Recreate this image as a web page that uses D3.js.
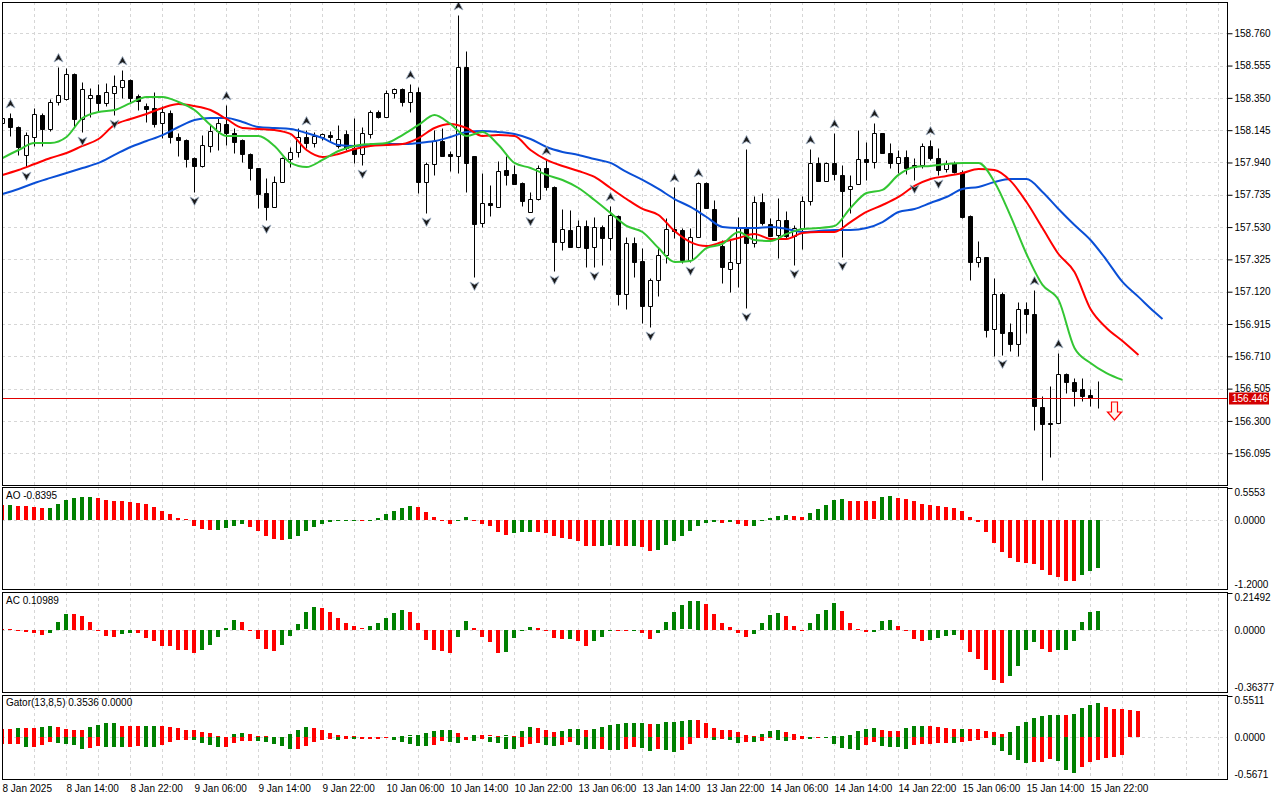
<!DOCTYPE html>
<html>
<head>
<meta charset="utf-8">
<script src="https://cdn.jsdelivr.net/npm/d3@7"></script>
<style>
body { margin: 0; background: #fff; }
text { font-family: "Liberation Sans", Arial, sans-serif; font-size: 10px; fill: #000; }
</style>
</head>
<body>
<script>
'use strict';

// hourly bars, 8 Jan 06:00 .. 15 Jan 23:00
var timeLabels = ['8 Jan 2025','8 Jan 14:00','8 Jan 22:00','9 Jan 06:00','9 Jan 14:00','9 Jan 22:00',
    '10 Jan 06:00','10 Jan 14:00','10 Jan 22:00','13 Jan 06:00','13 Jan 14:00','13 Jan 22:00',
    '14 Jan 06:00','14 Jan 14:00','14 Jan 22:00','15 Jan 06:00','15 Jan 14:00','15 Jan 22:00'];
var priceTicks = [156.095,156.300,156.505,156.710,156.915,157.120,157.325,157.530,157.735,157.940,158.145,158.350,158.555,158.760];
var priceRange = [155.887, 158.971];
var lastPrice = 156.446;
var sellSignal = {bar: 139, price: 156.42};

var opens = [158.191,158.222,158.165,157.988,158.102,158.241,158.153,158.324,158.343,158.501,
    158.216,158.349,158.368,158.317,158.381,158.419,158.463,158.362,158.298,158.286,
    158.191,158.254,158.102,158.083,157.968,157.918,158.045,158.140,158.184,158.127,
    158.083,157.994,157.905,157.746,157.658,157.816,157.962,158.007,158.102,158.064,
    158.102,158.114,158.045,158.121,158.032,157.994,158.121,158.260,158.229,158.381,
    158.406,158.324,158.387,157.816,157.930,158.076,157.994,157.981,158.546,157.981,
    157.556,157.683,157.658,157.892,157.867,157.810,157.626,157.708,157.905,157.785,
    157.435,157.512,157.404,157.537,157.404,157.531,157.461,157.601,157.106,157.429,
    157.315,157.029,157.194,157.353,157.518,157.512,157.321,157.467,157.810,157.645,
    157.410,157.264,157.302,157.531,157.429,157.689,157.550,157.480,157.575,157.474,
    157.524,157.696,157.937,157.823,157.937,157.861,157.772,157.804,157.962,157.943,
    158.127,158.000,157.937,157.975,157.924,157.924,158.045,157.968,157.899,157.937,
    157.880,157.601,157.309,157.340,156.884,157.106,156.864,156.788,157.010,156.979,
    156.389,156.287,156.287,156.598,156.547,156.503,156.465,156.446];
var highs = [158.248,158.254,158.172,158.133,158.286,158.254,158.343,158.546,158.540,158.508,
    158.451,158.413,158.438,158.444,158.495,158.527,158.470,158.375,158.317,158.387,
    158.298,158.273,158.127,158.089,157.975,158.114,158.178,158.222,158.305,158.159,
    158.089,157.997,157.908,157.842,157.854,157.975,158.038,158.159,158.146,158.133,
    158.127,158.140,158.178,158.146,158.222,158.165,158.273,158.273,158.400,158.413,
    158.413,158.438,158.419,157.943,158.146,158.159,158.013,158.876,158.647,157.984,
    157.873,157.797,157.949,157.981,157.924,157.813,157.753,157.924,157.956,157.788,
    157.645,157.639,157.575,157.575,157.594,157.543,157.664,157.607,157.467,157.467,
    157.397,157.207,157.404,157.588,157.785,157.524,157.524,157.816,157.816,157.702,
    157.448,157.448,157.594,158.026,157.727,157.746,157.588,157.715,157.632,157.543,
    157.727,158.026,157.975,157.943,158.127,157.924,157.861,158.146,158.070,158.191,
    158.130,158.064,158.019,158.019,157.968,158.064,158.083,158.032,157.956,157.949,
    157.892,157.604,157.442,157.343,157.207,157.118,156.922,157.055,157.055,157.131,
    156.458,156.522,156.731,156.604,156.573,156.573,156.503,156.554];
var lows = [158.172,158.108,157.988,157.911,158.045,158.045,158.140,158.305,158.337,158.165,
    158.133,158.229,158.260,158.298,158.241,158.349,158.324,158.273,158.197,158.165,
    158.095,158.064,157.981,157.911,157.753,157.911,158.007,158.019,158.051,158.000,
    157.943,157.829,157.651,157.575,157.655,157.813,157.911,157.975,158.032,158.038,
    158.083,158.070,158.032,158.019,157.937,157.924,158.095,158.222,158.226,158.349,
    158.298,158.260,157.746,157.620,157.861,157.978,157.886,157.873,157.753,157.213,
    157.531,157.601,157.655,157.797,157.801,157.664,157.623,157.705,157.766,157.252,
    157.385,157.401,157.401,157.277,157.277,157.290,157.385,157.036,157.010,157.213,
    156.922,156.896,157.093,157.302,157.461,157.302,157.309,157.464,157.648,157.445,
    157.175,157.118,157.150,157.017,157.404,157.543,157.471,157.334,157.461,157.290,
    157.391,157.670,157.820,157.820,157.829,157.340,157.620,157.801,157.829,157.905,
    157.997,157.905,157.873,157.867,157.829,157.905,157.956,157.861,157.880,157.873,
    157.588,157.194,157.277,156.833,156.712,156.718,156.744,156.712,156.858,156.243,
    155.925,156.071,156.284,156.477,156.395,156.427,156.395,156.382];
var closes = [158.222,158.165,158.038,158.114,158.248,158.153,158.324,158.368,158.501,158.216,
    158.406,158.368,158.317,158.387,158.425,158.463,158.349,158.330,158.279,158.184,
    158.260,158.102,158.083,157.962,157.918,158.051,158.140,158.191,158.127,158.070,
    157.994,157.905,157.740,157.658,157.816,157.968,158.007,158.102,158.064,158.108,
    158.121,158.102,158.089,158.032,157.994,158.127,158.260,158.229,158.381,158.406,
    158.324,158.387,157.816,157.930,158.076,157.981,157.981,158.546,157.937,157.550,
    157.683,157.670,157.886,157.861,157.804,157.696,157.708,157.905,157.785,157.435,
    157.518,157.404,157.537,157.397,157.531,157.461,157.607,157.106,157.429,157.309,
    157.029,157.194,157.353,157.518,157.505,157.321,157.467,157.810,157.651,157.448,
    157.277,157.309,157.531,157.429,157.689,157.556,157.474,157.575,157.474,157.524,
    157.696,157.937,157.823,157.937,157.867,157.759,157.791,157.962,157.943,158.127,
    158.000,157.937,157.975,157.905,157.911,158.045,157.968,157.892,157.930,157.880,
    157.594,157.309,157.340,156.877,157.106,156.858,156.788,157.010,156.979,156.395,
    156.281,156.281,156.598,156.547,156.490,156.458,156.446,156.444];

var fractalUp = [1,7,15,28,38,51,57,68,76,84,87,93,101,104,109,116,129,132];
var fractalDown = [3,10,14,24,33,45,53,59,66,69,74,81,86,93,99,105,114,117,125,130];

// Alligator(13,8,5), one value every 2 bars; jaw's last point sits on bar 145
var jaw = [157.740,157.772,157.810,157.842,157.873,157.905,157.937,157.988,158.038,158.076,
    158.114,158.165,158.210,158.222,158.222,158.197,158.165,158.159,158.153,158.127,
    158.095,158.051,158.045,158.051,158.057,158.057,158.064,158.076,158.102,158.133,
    158.140,158.133,158.121,158.089,158.038,158.007,157.988,157.962,157.937,157.880,
    157.829,157.772,157.708,157.658,157.594,157.531,157.524,157.524,157.531,157.518,
    157.499,157.505,157.512,157.512,157.524,157.562,157.626,157.645,157.683,157.721,
    157.772,157.785,157.816,157.835,157.835,157.753,157.645,157.543,157.448,157.321,
    157.182,157.087,156.991,156.947];
var jawEnd = 145;
var teeth = [157.861,157.892,157.930,157.968,158.000,158.045,158.089,158.178,158.216,158.248,
    158.286,158.311,158.298,158.273,158.216,158.159,158.153,158.146,158.121,158.019,
    157.975,157.994,158.026,158.045,158.051,158.057,158.095,158.159,158.184,158.159,
    158.108,158.114,158.108,158.019,157.956,157.918,157.886,157.848,157.778,157.708,
    157.645,157.607,157.505,157.435,157.410,157.435,157.461,157.486,157.455,157.455,
    157.493,157.499,157.499,157.562,157.626,157.670,157.721,157.791,157.835,157.854,
    157.873,157.899,157.892,157.823,157.689,157.524,157.359,157.245,157.010,156.890,
    156.807,156.718];
var lips = [157.968,158.019,158.064,158.064,158.102,158.222,158.260,158.273,158.317,158.356,
    158.356,158.324,158.273,158.178,158.108,158.108,158.108,158.045,157.937,157.911,
    157.956,158.013,158.045,158.057,158.064,158.114,158.178,158.241,158.184,158.108,
    158.133,158.051,157.937,157.905,157.861,157.829,157.778,157.702,157.620,157.537,
    157.499,157.397,157.309,157.315,157.397,157.423,157.499,157.448,157.442,157.486,
    157.518,157.524,157.537,157.651,157.746,157.766,157.861,157.911,157.918,157.930,
    157.937,157.937,157.816,157.601,157.359,157.163,157.068,156.763,156.668,156.604,
    156.560];

var ao = [0.261,0.264,0.243,0.242,0.231,0.214,0.215,0.278,0.348,0.388,
    0.405,0.407,0.388,0.348,0.335,0.330,0.313,0.291,0.278,0.231,
    0.162,0.105,0.029,0.012,-0.099,-0.157,-0.174,-0.171,-0.134,-0.099,
    -0.075,-0.117,-0.191,-0.273,-0.331,-0.348,-0.331,-0.273,-0.186,-0.117,
    -0.069,-0.029,-0.012,-0.007,-0.004,-0.006,0.002,0.040,0.099,0.157,
    0.209,0.238,0.220,0.134,0.047,0.007,-0.063,-0.011,0.047,-0.005,
    -0.063,-0.109,-0.209,-0.266,-0.226,-0.209,-0.206,-0.210,-0.226,-0.283,
    -0.312,-0.330,-0.371,-0.457,-0.459,-0.455,-0.440,-0.446,-0.457,-0.454,
    -0.475,-0.544,-0.527,-0.440,-0.371,-0.283,-0.197,-0.109,-0.052,-0.035,
    -0.052,-0.036,-0.069,-0.109,-0.107,-0.025,0.029,0.065,0.082,0.065,
    0.047,0.117,0.186,0.256,0.343,0.360,0.331,0.325,0.323,0.321,
    0.394,0.412,0.389,0.365,0.325,0.278,0.256,0.238,0.220,0.209,
    0.157,0.047,-0.040,-0.209,-0.400,-0.556,-0.660,-0.729,-0.747,-0.765,
    -0.863,-0.961,-0.991,-1.060,-1.062,-0.961,-0.892,-0.8395];
var ac = [0.004,0.002,-0.004,-0.010,-0.015,-0.029,-0.015,0.045,0.095,0.094,
    0.080,0.045,-0.004,-0.035,-0.038,-0.025,-0.015,-0.017,-0.044,-0.063,
    -0.092,-0.095,-0.115,-0.119,-0.137,-0.119,-0.086,-0.038,0.012,0.057,
    0.045,-0.004,-0.052,-0.109,-0.120,-0.086,-0.035,0.035,0.102,0.132,
    0.127,0.105,0.070,0.038,0.023,0.008,0.023,0.040,0.070,0.099,
    0.115,0.103,0.042,-0.057,-0.115,-0.124,-0.135,-0.038,0.052,0.012,
    -0.040,-0.072,-0.135,-0.130,-0.044,-0.002,0.015,0.013,-0.004,-0.044,
    -0.055,-0.050,-0.067,-0.095,-0.067,-0.038,-0.002,-0.004,-0.005,-0.004,
    -0.015,-0.055,-0.019,0.045,0.103,0.143,0.166,0.167,0.151,0.094,
    0.042,0.017,-0.015,-0.038,-0.021,0.042,0.086,0.097,0.080,0.023,
    -0.001,0.040,0.092,0.115,0.155,0.109,0.040,0.004,-0.010,-0.009,
    0.052,0.057,0.023,-0.004,-0.050,-0.067,-0.061,-0.044,-0.033,-0.027,
    -0.061,-0.130,-0.170,-0.233,-0.290,-0.308,-0.268,-0.210,-0.119,-0.073,
    -0.113,-0.130,-0.119,-0.118,-0.067,0.046,0.104,0.10989];
var gatorUp = [0.113,0.113,0.122,0.122,0.122,0.131,0.144,0.131,0.108,0.099,
    0.097,0.131,0.158,0.189,0.190,0.153,0.144,0.143,0.145,0.146,
    0.144,0.135,0.122,0.099,0.090,0.072,0.054,0.013,0.004,0.036,
    0.054,0.036,0.013,0.012,0.004,0.002,0.036,0.090,0.131,0.118,
    0.099,0.054,0.022,0.013,0.008,0.005,0.004,0.003,0.002,0.001,
    0.010,0.019,0.028,0.049,0.076,0.090,0.092,0.049,0.003,0.023,
    0.021,0.019,0.018,0.020,0.014,0.076,0.131,0.122,0.090,0.072,
    0.085,0.104,0.106,0.090,0.108,0.135,0.162,0.171,0.184,0.186,
    0.188,0.171,0.172,0.198,0.200,0.211,0.225,0.224,0.184,0.117,
    0.090,0.088,0.063,0.023,0.016,0.040,0.081,0.090,0.063,0.036,
    0.010,0.005,0.003,0.004,0.006,0.008,0.023,0.077,0.104,0.117,
    0.090,0.077,0.076,0.117,0.144,0.146,0.144,0.131,0.117,0.104,
    0.106,0.104,0.102,0.081,0.063,0.036,0.063,0.144,0.198,0.252,
    0.288,0.292,0.294,0.292,0.306,0.387,0.436,0.454,0.400,0.377,
    0.376,0.360,0.3536];
var gatorDown = [-0.094,-0.092,-0.090,-0.135,-0.133,-0.103,-0.067,-0.081,-0.094,-0.103,
    -0.162,-0.148,-0.126,-0.128,-0.131,-0.133,-0.130,-0.127,-0.129,-0.131,
    -0.112,-0.067,-0.045,-0.036,-0.045,-0.080,-0.112,-0.140,-0.130,-0.075,
    -0.055,-0.050,-0.055,-0.070,-0.100,-0.120,-0.162,-0.160,-0.126,-0.070,
    -0.040,-0.032,-0.036,-0.030,-0.033,-0.027,-0.024,-0.022,-0.020,-0.036,
    -0.071,-0.094,-0.121,-0.123,-0.108,-0.058,-0.071,-0.085,-0.040,-0.058,
    -0.027,-0.071,-0.085,-0.166,-0.168,-0.135,-0.094,-0.081,-0.108,-0.121,
    -0.108,-0.071,-0.108,-0.166,-0.168,-0.165,-0.179,-0.181,-0.166,-0.135,
    -0.148,-0.193,-0.166,-0.179,-0.206,-0.179,-0.094,-0.005,-0.003,-0.040,
    -0.031,-0.036,-0.085,-0.065,-0.071,-0.058,-0.018,-0.044,-0.058,-0.040,
    -0.027,-0.031,-0.004,-0.013,-0.094,-0.148,-0.162,-0.179,-0.108,-0.071,
    -0.125,-0.139,-0.141,-0.166,-0.108,-0.098,-0.094,-0.081,-0.080,-0.082,
    -0.071,-0.058,-0.044,-0.013,-0.108,-0.193,-0.247,-0.314,-0.345,-0.340,
    -0.336,-0.301,-0.328,-0.449,-0.489,-0.408,-0.341,-0.314,-0.283,-0.270,
    -0.247];
var aoRange = [-1.2, 0.5553];
var acRange = [-0.36377, 0.21492];
var gatorRange = [-0.5671, 0.5511];

var mt = {};
mt.left = 2;
mt.right = 1227;
mt.barStep = 8;
mt.panels = {
    main:  {top: 2,   bottom: 485},
    ao:    {top: 487, bottom: 589},
    ac:    {top: 592, bottom: 692},
    gator: {top: 695, bottom: 779}
};
mt.grid = '#d6d6d6';
mt.green = '#008000';
mt.red = '#ff0000';
// plain hyphen for negatives, as the terminal prints them
mt.locale = d3.formatLocale({decimal: '.', thousands: ',', grouping: [3], currency: ['', ''], minus: '-'});
mt.fmt = function (spec) { return mt.locale.format(spec); };

mt.x = d3.scaleLinear().domain([0, 1]).range([mt.left, mt.left + mt.barStep]);
mt.px = function (i) { return Math.round(mt.x(i)) + 0.5; };
mt.yPrice = d3.scaleLinear().domain(priceRange).range([486, 0]);

var svg = d3.select('body').append('svg').attr('width', 1280).attr('height', 800);
var defs = svg.append('defs');

mt.clip = function (name, p) {
    defs.append('clipPath').attr('id', 'clip-' + name).append('rect')
        .attr('x', mt.left + 0.5).attr('y', p.top + 0.5)
        .attr('width', mt.right - mt.left).attr('height', p.bottom - p.top);
    return 'url(#clip-' + name + ')';
};

mt.vGrid = function (g, p) {
    var ticks = d3.range(4, 154, 4).filter(function (i) { return mt.x(i) < mt.right; });
    g.selectAll('line.vg').data(ticks).enter().append('line')
        .attr('x1', mt.px).attr('x2', mt.px)
        .attr('y1', p.top).attr('y2', p.bottom)
        .attr('stroke', mt.grid).attr('stroke-dasharray', '3,3');
};

mt.hLine = function (g, y) {
    g.append('line').attr('x1', mt.left).attr('x2', mt.right)
        .attr('y1', Math.round(y) + 0.5).attr('y2', Math.round(y) + 0.5)
        .attr('stroke', mt.grid).attr('stroke-dasharray', '3,3');
};

mt.frame = function (p) {
    svg.append('rect').attr('x', mt.left + 0.5).attr('y', p.top + 0.5)
        .attr('width', mt.right - mt.left).attr('height', p.bottom - p.top)
        .attr('fill', 'none').attr('stroke', '#000');
};

// ---------- main panel ----------
var pm = mt.panels.main;
var main = svg.append('g').attr('clip-path', mt.clip('main', pm));
mt.vGrid(main, pm);
priceTicks.forEach(function (v) { mt.hLine(main, mt.yPrice(v)); });

var bars = d3.range(opens.length);
main.selectAll('line.wick').data(bars).enter().append('line')
    .attr('x1', mt.px).attr('x2', mt.px)
    .attr('y1', function (i) { return Math.round(mt.yPrice(highs[i])) + 0.5; })
    .attr('y2', function (i) { return Math.round(mt.yPrice(lows[i])) + 0.5; })
    .attr('stroke', '#000');
main.selectAll('path.body').data(bars).enter().append('path')
    .attr('d', function (i) {
        var top = Math.round(mt.yPrice(Math.max(opens[i], closes[i]))) + 0.5;
        var bot = Math.round(mt.yPrice(Math.min(opens[i], closes[i]))) + 0.5;
        var x0 = mt.px(i) - 2;
        return 'M' + x0 + ',' + top + 'h4V' + bot + 'h-4Z';
    })
    .attr('fill', function (i) { return closes[i] > opens[i] ? '#fff' : '#000'; })
    .attr('stroke', '#000');

mt.alligator = function (values, end, color) {
    var line = d3.line()
        .x(function (d, k) { return mt.x(Math.min(k * 2, end)) + 0.5; })
        .y(function (d) { return mt.yPrice(d); })
        .curve(d3.curveMonotoneX);
    main.append('path').attr('d', line(values))
        .attr('fill', 'none').attr('stroke', color).attr('stroke-width', 2);
};
mt.alligator(jaw, jawEnd, '#0a4fd6');
mt.alligator(teeth, 999, '#ff0000');
mt.alligator(lips, 999, '#33c633');

var upShape = 'M0,-4.5L4.5,4L0,1.5L-4.5,4Z';
var downShape = 'M0,4.5L4.5,-4L0,-1.5L-4.5,-4Z';
main.selectAll('path.fup').data(fractalUp).enter().append('path')
    .attr('d', upShape)
    .attr('transform', function (i) { return 'translate(' + mt.px(i) + ',' + (mt.yPrice(highs[i]) - 9) + ')'; })
    .attr('fill', '#1a1a1a').attr('stroke', '#9fb0c4').attr('stroke-width', 0.8);
main.selectAll('path.fdn').data(fractalDown).enter().append('path')
    .attr('d', downShape)
    .attr('transform', function (i) { return 'translate(' + mt.px(i) + ',' + (mt.yPrice(lows[i]) + 9) + ')'; })
    .attr('fill', '#1a1a1a').attr('stroke', '#9fb0c4').attr('stroke-width', 0.8);

var yLast = Math.round(mt.yPrice(lastPrice)) + 0.5;
main.append('line').attr('x1', mt.left).attr('x2', mt.right)
    .attr('y1', yLast).attr('y2', yLast).attr('stroke', '#e00000');

var sy = mt.yPrice(sellSignal.price);
main.append('path')
    .attr('d', 'M-3,0H3V10H7L0,18L-7,10H-3Z')
    .attr('transform', 'translate(' + mt.px(sellSignal.bar) + ',' + sy + ')')
    .attr('fill', '#fff4ee').attr('stroke', '#ff0000').attr('stroke-width', 1.2);
mt.frame(pm);

var priceAxis = svg.append('g').attr('transform', 'translate(' + (mt.right + 0.5) + ',0)')
    .call(d3.axisRight(mt.yPrice).tickValues(priceTicks).tickSize(5).tickPadding(2)
        .tickFormat(mt.fmt('.3f')));
priceAxis.select('.domain').remove();
priceAxis.selectAll('text').style('font-size', '10px').style('font-family', '"Liberation Sans", Arial, sans-serif');

svg.append('rect').attr('x', mt.right + 2).attr('y', yLast - 6).attr('width', 40).attr('height', 12)
    .attr('fill', '#d40000');
svg.append('text').attr('x', mt.right + 5).attr('y', yLast + 3.5)
    .style('fill', '#fff').text(mt.fmt('.3f')(lastPrice));

// ---------- indicator panels ----------
mt.histPanel = function (name, values, range, fmt, colorOf) {
    var p = mt.panels[name];
    var y = d3.scaleLinear().domain(range).range([p.bottom, p.top + 1]);
    var g = svg.append('g').attr('clip-path', mt.clip(name, p));
    mt.vGrid(g, p);
    mt.hLine(g, y(0));
    values.forEach(function (series) {
        g.selectAll(null).data(series).enter().append('rect')
            .attr('x', function (d, i) { return Math.round(mt.x(i)) - 2; })
            .attr('width', 4)
            .attr('y', function (d) { return Math.round(Math.min(y(d), y(0))); })
            .attr('height', function (d) { return Math.max(1, Math.round(Math.abs(y(d) - y(0)))); })
            .attr('fill', function (d, i) { return colorOf(series, i) ? mt.green : mt.red; });
    });
    mt.frame(p);
    var axis = svg.append('g').attr('transform', 'translate(' + (mt.right + 0.5) + ',0)')
        .call(d3.axisRight(y).tickValues([range[1], 0, range[0]]).tickSize(5).tickPadding(2)
            .tickFormat(function (d) { return d === 0 ? '0.0000' : mt.fmt(fmt)(d); }));
    axis.select('.domain').remove();
    // top value: tick on the frame, label just below; zero and bottom: label only
    axis.selectAll('.tick').attr('transform', function (d) {
        var ty = d === range[1] ? p.top + 1 : (d === range[0] ? p.bottom - 5 : y(d));
        return 'translate(0,' + (Math.round(ty) + 0.5) + ')';
    });
    axis.selectAll('.tick line').filter(function (d) { return d !== range[1]; }).remove();
    axis.selectAll('.tick text').filter(function (d) { return d === range[1]; }).attr('y', 4);
    axis.selectAll('text').style('font-size', '10px').style('font-family', '"Liberation Sans", Arial, sans-serif');
    return g;
};

var rising = function (s, i) { return i > 0 && s[i] > s[i - 1]; };
var growing = function (s, i) { return i > 0 && Math.abs(s[i]) > Math.abs(s[i - 1]); };

mt.histPanel('ao', [ao], aoRange, '.4f', rising);
mt.histPanel('ac', [ac], acRange, '.5f', rising);
mt.histPanel('gator', [gatorUp, gatorDown], gatorRange, '.4f', growing);

svg.append('text').attr('x', 6).attr('y', mt.panels.ao.top + 12)
    .text('AO ' + mt.fmt('.4f')(ao[ao.length - 1]));
svg.append('text').attr('x', 6).attr('y', mt.panels.ac.top + 12)
    .text('AC ' + mt.fmt('.5f')(ac[ac.length - 1]));
svg.append('text').attr('x', 6).attr('y', mt.panels.gator.top + 11)
    .text('Gator(13,8,5) ' + mt.fmt('.4f')(gatorUp[gatorUp.length - 1]) + ' ' + mt.fmt('.4f')(0));

// ---------- time axis ----------
var labelBars = d3.range(0, opens.length, 8);
var timeAxis = svg.append('g').attr('transform', 'translate(0,' + (mt.panels.gator.bottom + 1) + ')')
    .call(d3.axisBottom(mt.x).tickValues(labelBars).tickSize(0).tickPadding(5)
        .tickFormat(function (d, k) { return timeLabels[k]; }));
timeAxis.select('.domain').remove();
timeAxis.selectAll('text').attr('text-anchor', 'start')
    .style('font-size', '10px').style('font-family', '"Liberation Sans", Arial, sans-serif');
</script>
</body>
</html>
